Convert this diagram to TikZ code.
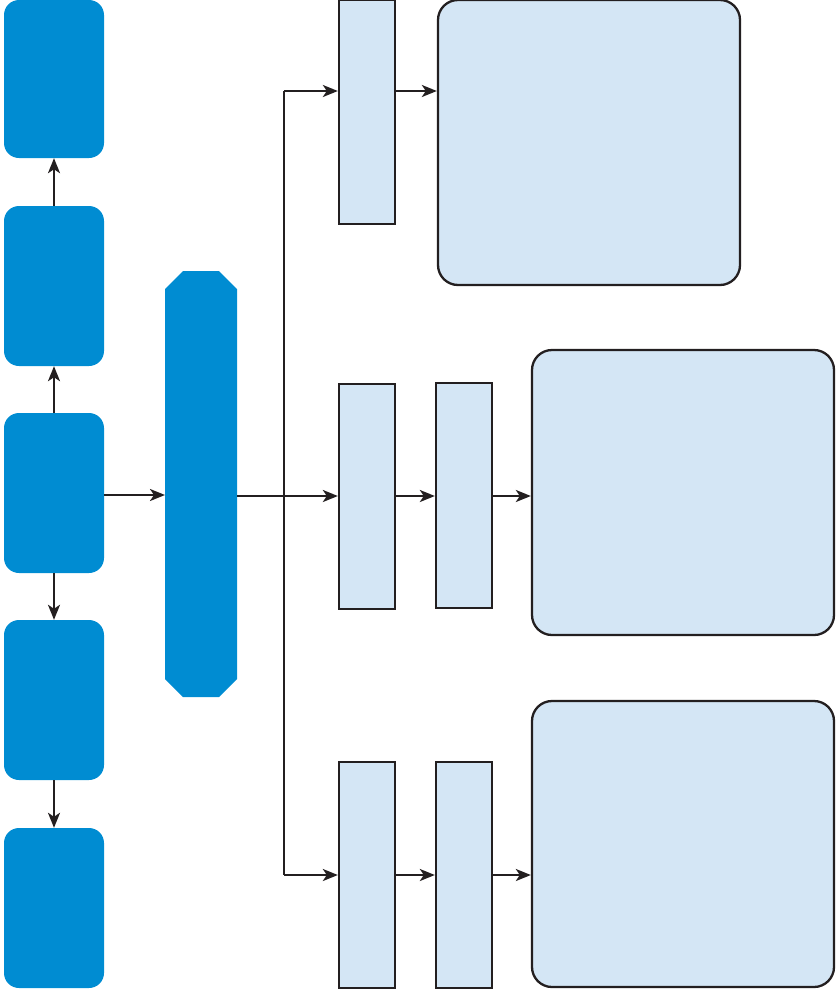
\documentclass[tikz,border=0pt]{standalone}
\usetikzlibrary{arrows.meta}
\definecolor{bblue}{RGB}{0,140,210}
\definecolor{lblue}{RGB}{212,230,245}
\definecolor{dk}{RGB}{35,31,32}
\begin{document}
\begin{tikzpicture}[x=1pt,y=-1pt,
  bluebox/.style={fill=bblue,draw=none,rounded corners=15pt,minimum width=100pt,inner sep=0pt},
  octa/.style={draw=none,fill=none,minimum width=72pt,minimum height=426pt,inner sep=0pt,outer sep=0pt},
  thin/.style={fill=lblue,draw=dk,line width=2.3pt,minimum width=56pt,inner sep=0pt},
  bigbox/.style={fill=lblue,draw=dk,line width=2.3pt,rounded corners=20pt,minimum width=302pt,minimum height=285pt,inner sep=0pt},
  arr/.style={draw=dk,line width=2.3pt,-{Stealth[length=15pt,width=12pt,inset=4pt]}},
  ln/.style={draw=dk,line width=2.3pt}]
\useasboundingbox (0,0) rectangle (839,991);
% left column
\node[bluebox,minimum height=158pt] (l1) at (54,79) {};
\node[bluebox,minimum height=160pt] (l2) at (54,286) {};
\node[bluebox,minimum height=160pt] (l3) at (54,493) {};
\node[bluebox,minimum height=160pt] (l4) at (54,700) {};
\node[bluebox,minimum height=160pt] (l5) at (54,908) {};
\node[octa] (oc) at (201,484) {};
\fill[bblue] ([xshift=18pt]oc.north west) -- ([xshift=-18pt]oc.north east)
  -- ([yshift=-18pt]oc.north east) -- ([yshift=18pt]oc.south east)
  -- ([xshift=-18pt]oc.south east) -- ([xshift=18pt]oc.south west)
  -- ([yshift=18pt]oc.south west) -- ([yshift=-18pt]oc.north west) -- cycle;
% top branch
\node[thin,minimum height=224pt] (t1) at (367,112) {};
\node[bigbox] (tb) at (589,142.5) {};
% middle branch
\node[thin,minimum height=225pt] (m1) at (367,496.5) {};
\node[thin,minimum height=225pt] (m2) at (464,495.5) {};
\node[bigbox] (mb) at (683,492.5) {};
% bottom branch
\node[thin,minimum height=226pt] (b1) at (367,875) {};
\node[thin,minimum height=226pt] (b2) at (464,875) {};
\node[bigbox,minimum height=286pt] (bb) at (683,844) {};
% junction coordinates
\coordinate (jt) at (284,91);
\coordinate (jb) at (284,875);
\coordinate (jm) at (284,496);
% left arrows
\draw[arr] (l2.north) -- (l1.south);
\draw[arr] (l3.north) -- (l2.south);
\draw[arr] (l3.south) -- (l4.north);
\draw[arr] (l4.south) -- (l5.north);
\draw[arr] (l3.east |- 0,495) -- (oc.west |- 0,495);
% trunk
\draw[ln] (jt) -- (jb);
\draw[arr] (oc.east |- jm) -- (m1.west |- jm);
\draw[arr] (jt) -- (t1.west |- jt);
\draw[arr] (jb) -- (b1.west |- jb);
% chain arrows
\draw[arr] (t1.east |- jt) -- (tb.west |- jt);
\draw[arr] (m1.east |- jm) -- (m2.west |- jm);
\draw[arr] (m2.east |- jm) -- (mb.west |- jm);
\draw[arr] (b1.east |- jb) -- (b2.west |- jb);
\draw[arr] (b2.east |- jb) -- (bb.west |- jb);
\end{tikzpicture}
\end{document}
